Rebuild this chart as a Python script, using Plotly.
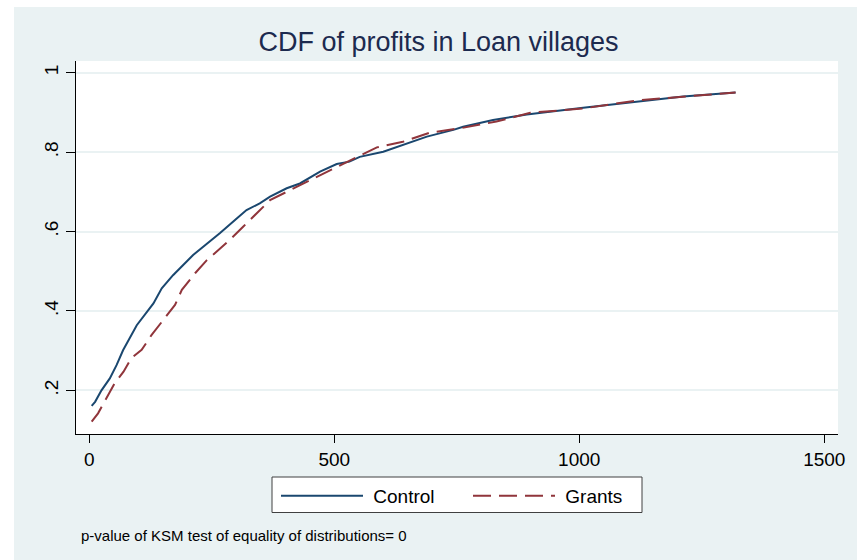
import plotly.graph_objects as go

# ---- data ----
control_profit = [5, 12, 25, 42, 56, 69, 97, 131, 148, 171, 212, 233, 267, 301, 321, 348, 369,
                  403, 430, 471, 505, 531, 552, 600, 689, 743, 763, 824, 893, 1008, 1124, 1212, 1319]
control_cdf = [0.161, 0.171, 0.200, 0.230, 0.264, 0.301, 0.364, 0.419, 0.457, 0.490, 0.541, 0.562,
               0.596, 0.633, 0.654, 0.671, 0.688, 0.709, 0.721, 0.751, 0.770, 0.776, 0.788, 0.801,
               0.839, 0.856, 0.864, 0.881, 0.895, 0.912, 0.929, 0.940, 0.950]

grants_profit = [5, 18, 35, 52, 70, 86, 107, 127, 151, 175, 189, 216, 240, 263, 287, 314, 342, 369,
                 403, 444, 478, 512, 546, 587, 640, 695, 757, 831, 900, 1008, 1124, 1319]
grants_cdf = [0.121, 0.142, 0.180, 0.218, 0.247, 0.281, 0.302, 0.339, 0.377, 0.415, 0.453, 0.495,
              0.528, 0.553, 0.579, 0.612, 0.646, 0.679, 0.700, 0.725, 0.747, 0.768, 0.788, 0.812,
              0.826, 0.849, 0.860, 0.877, 0.899, 0.910, 0.931, 0.950]

x_ticks = [0, 500, 1000, 1500]
y_ticks = [0.2, 0.4, 0.6, 0.8, 1.0]
y_ticktext = [".2", ".4", ".6", ".8", "1"]

series_names = ["Control", "Grants"]
title_text = "CDF of profits in Loan villages"
note_text = "p-value of KSM test of equality of distributions= 0"

FONT = "Liberation Sans, Arial, Helvetica, sans-serif"
PANEL = "#EAF2F3"

# plot-area geometry (px) used to convert reference positions into paper coordinates
L, T, W, H = 76, 61, 762, 373


def px(x):
    return (x - L) / W


def py(y):
    return (T + H - y) / H


NB = "\u00a0"

fig = go.Figure()
fig.add_trace(go.Scatter(x=control_profit, y=control_cdf, mode="lines", name=NB + series_names[0],
                         line=dict(color="#1A476F", width=2)))
fig.add_trace(go.Scatter(x=grants_profit, y=grants_cdf, mode="lines", name=NB + series_names[1],
                         line=dict(color="#90353B", width=2, dash="18px,8px")))

fig.update_layout(
    width=857, height=560,
    margin=dict(l=L, r=857 - L - W, t=T, b=560 - T - H, autoexpand=False),
    paper_bgcolor="white", plot_bgcolor="white",
    font=dict(family=FONT, color="black"),
    title=dict(text=title_text, x=438.5 / 857, xref="container", xanchor="center",
               y=1 - 42 / 560, yref="container", yanchor="middle",
               font=dict(size=27, color="#1C2A4F", family=FONT)),
    xaxis=dict(range=[-27, 1528], tickvals=x_ticks, showgrid=False, zeroline=False,
               showline=True, linecolor="black", linewidth=1,
               ticks="outside", ticklen=8, tickcolor="black", tickwidth=1,
               tickfont=dict(size=19, color="black")),
    yaxis=dict(range=[0.09, 1.0295], tickvals=y_ticks, ticktext=y_ticktext, tickangle=-90,
               showgrid=True, gridcolor=PANEL, gridwidth=1.5, zeroline=False,
               showline=True, linecolor="black", linewidth=1,
               ticks="outside", ticklen=9, tickcolor="black", tickwidth=1,
               tickfont=dict(size=19, color="black")),
    legend=dict(orientation="h", x=px(276), xanchor="left", y=py(477), yanchor="top",
                bgcolor="rgba(0,0,0,0)", borderwidth=0,
                font=dict(size=19, color="black"), itemwidth=82, entrywidth=95),
    showlegend=True,
    shapes=[
        dict(type="rect", xref="paper", yref="paper", x0=px(14), x1=px(870), y0=py(600), y1=py(7),
             fillcolor=PANEL, line=dict(width=0), layer="below"),
        dict(type="rect", xref="paper", yref="paper", x0=0, x1=1, y0=0, y1=1,
             fillcolor="white", line=dict(width=0), layer="below"),
        dict(type="rect", xref="paper", yref="paper", x0=px(272), x1=px(642), y0=py(512.5), y1=py(477),
             fillcolor="white", line=dict(width=1, color="#404040"), layer="below"),
    ],
    annotations=[
        dict(text=note_text, xref="paper", yref="paper", x=px(78.5), y=py(535),
             xanchor="left", yanchor="middle", showarrow=False,
             font=dict(size=15, color="black", family=FONT)),
    ],
)

fig.write_html("out.html", config={"displayModeBar": False},
               post_script="document.body.style.margin='0px';")
